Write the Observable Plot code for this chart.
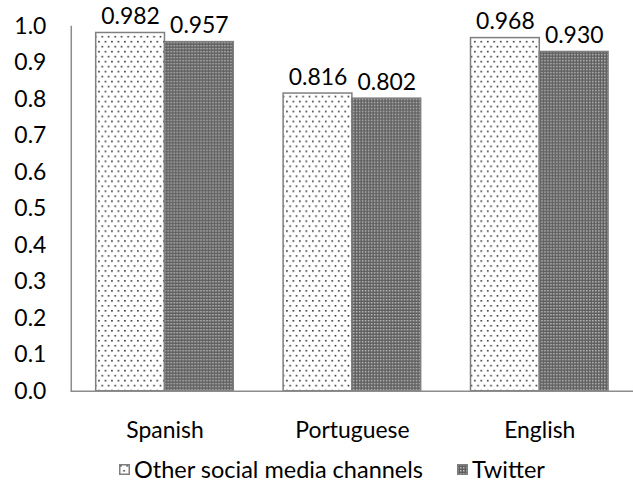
<!DOCTYPE html>
<html>
<head>
<meta charset="utf-8">
<script src="https://cdn.jsdelivr.net/npm/d3@7"></script>
<script src="https://cdn.jsdelivr.net/npm/@observablehq/plot@0.6"></script>
<style>
  html, body { margin: 0; padding: 0; background: white; overflow: hidden; width: 633px; height: 490px; }
  #wrap { position: relative; width: 633px; height: 490px; font-family: Lato, sans-serif; }
  #legend { position: absolute; top: 455px; left: 119px; display: flex; align-items: center; font-size: 23.5px; color: #000; white-space: nowrap; }
  #legend .item { display: flex; align-items: center; }
  #legend svg { margin-right: 4px; }
</style>
</head>
<body>
<svg width="0" height="0" style="position:absolute">
  <defs>
    <pattern id="dots" width="6.5" height="10" patternUnits="userSpaceOnUse">
      <rect width="6.5" height="10" fill="white"/>
      <rect x="1" y="1" width="1.6" height="1.6" fill="#333"/>
      <rect x="4.25" y="6" width="1.6" height="1.6" fill="#333"/>
    </pattern>
    <pattern id="checker" width="3" height="3" patternUnits="userSpaceOnUse">
      <rect width="3" height="3" fill="#5e5e5e"/>
      <rect x="0" y="0" width="1.5" height="1.5" fill="#bdbdbd"/>
    </pattern>
  </defs>
</svg>
<div id="wrap">
  <div id="chart"></div>
  <div id="legend"></div>
</div>
<script>
const languages = ["Spanish", "Portuguese", "English"];
const series = ["Other social media channels", "Twitter"];
const otherValues = [0.982, 0.816, 0.968];
const twitterValues = [0.957, 0.802, 0.930];
const yTicks = [0, 0.1, 0.2, 0.3, 0.4, 0.5, 0.6, 0.7, 0.8, 0.9, 1.0];
const seriesFills = ["url(#dots)", "url(#checker)"];

const otherData = languages.map((lang, i) => ({language: lang, series: series[0], value: otherValues[i]}));
const twitterData = languages.map((lang, i) => ({language: lang, series: series[1], value: twitterValues[i]}));

const half = 69; // half of each group's band width
const fmt = d => d.value.toFixed(3);

const chart = Plot.plot({
  width: 635,
  height: 445,
  marginLeft: 71,
  marginRight: 0,
  marginTop: 26,
  marginBottom: 53,
  style: {fontFamily: "Lato, sans-serif", fontSize: "23px", color: "#000", background: "white", overflow: "visible"},
  x: {domain: languages, paddingInner: 0.266, paddingOuter: 0.133, label: null, tickSize: 0, tickPadding: 31},
  y: {domain: [0, 1], ticks: yTicks, tickFormat: d => d.toFixed(1), label: null, tickSize: 0, tickPadding: 25},
  marks: [
    Plot.barY(otherData, {x: "language", y: "value", insetRight: half, fill: seriesFills[0], stroke: "#7f7f7f", strokeWidth: 1.5}),
    Plot.barY(twitterData, {x: "language", y: "value", insetLeft: half, fill: seriesFills[1], stroke: "#7f7f7f", strokeWidth: 1.5}),
    Plot.text(otherData, {x: "language", y: "value", text: fmt, dx: -half / 2, dy: -9, lineAnchor: "bottom", fill: "#000"}),
    Plot.text(twitterData, {x: "language", y: "value", text: fmt, dx: half / 2, dy: -9, lineAnchor: "bottom", fill: "#000"}),
    Plot.ruleY([0], {stroke: "#8c8c8c", strokeWidth: 1.5}),
    Plot.frame({anchor: "left", stroke: "#8c8c8c", strokeWidth: 1.5})
  ]
});
document.getElementById("chart").appendChild(chart);

const legend = document.getElementById("legend");
series.forEach((s, i) => {
  const item = document.createElement("div");
  item.className = "item";
  if (i > 0) item.style.marginLeft = "34px";
  item.innerHTML = `<svg width="11" height="11"><rect x="0.75" y="0.75" width="9.5" height="9.5" fill="${seriesFills[i]}" stroke="#7f7f7f" stroke-width="1.5"/></svg><span>${s}</span>`;
  legend.appendChild(item);
});
</script>
</body>
</html>
